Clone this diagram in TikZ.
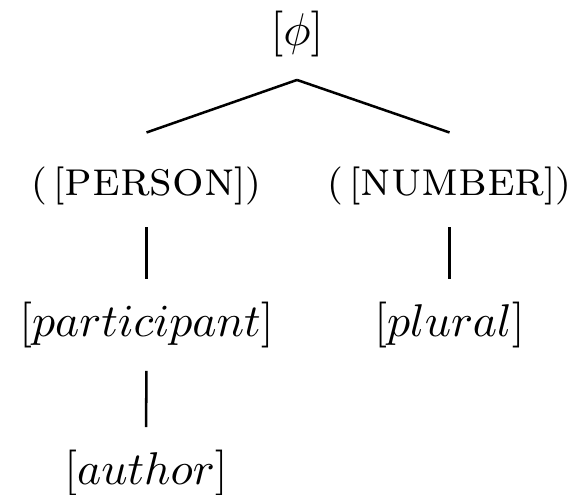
\documentclass[tikz,border=0pt]{standalone}
\usetikzlibrary{positioning}
\tikzstyle{feat} = [inner sep=0pt, anchor=base]
\tikzstyle{branch} = [draw, line width=0.55pt, shorten <=4.8pt, shorten >=4.8pt]
\newcommand{\fence}[1]{{\fontsize{8.3}{10}\selectfont #1}}
\newcommand{\catname}[1]{{\fontsize{10.8}{13}\selectfont\textsc{#1}}}
\begin{document}
\begin{tikzpicture}[x=0.2179pt, y=-0.2179pt]
\useasboundingbox (0,0) rectangle (574,494);
\node (phi) [feat] at (297,45.5) {$[\phi]$};
\node (person) [feat] at (146.5,195) {\fence{(\,[}\catname{person}\fence{])}};
\node (number) [feat] at (449.5,195) {\fence{(\,[}\catname{number}\fence{])}};
\node (participant) [feat] at (146.5,336.5) {$[participant]$};
\node (plural) [feat] at (449.5,336.5) {$[plural]$};
\node (author) [feat] at (146,484.5) {$[author]$};

\draw [line width=0.55pt] ([yshift=-4.8pt]phi.south) -- ([yshift=7.2pt]person.north);
\draw [line width=0.55pt] ([yshift=-4.8pt]phi.south) -- ([yshift=7.2pt]number.north);
\draw [branch] (person.south) -- (participant.north);
\draw [branch] (number.south) -- (plural.north);
\draw [branch] (participant.south) -- (author.north);
\end{tikzpicture}
\end{document}
